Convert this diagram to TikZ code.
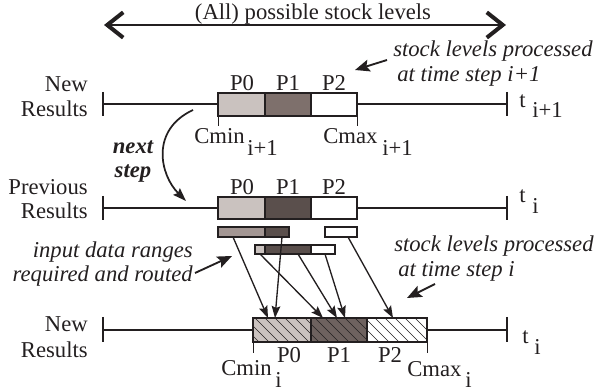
\documentclass[tikz,border=0pt]{standalone}
\usepackage{fontspec}
\setmainfont{Liberation Serif}
\usetikzlibrary{arrows.meta}
\definecolor{lightp}{HTML}{CAC2BF}
\definecolor{midp}{HTML}{7E706C}
\definecolor{darkp}{HTML}{5A4F4C}
\definecolor{barl}{HTML}{A39693}
\definecolor{hatchp}{HTML}{6E625F}
\definecolor{ink}{HTML}{231F20}
\begin{document}
\begin{tikzpicture}[x=0.75pt,y=-0.75pt,
  txt/.style={font=\fontsize{17}{18.75}\selectfont, text=ink, inner sep=0pt},
  itxt/.style={font=\fontsize{17}{18.75}\selectfont\itshape, text=ink, inner sep=0pt},
  btxt/.style={font=\fontsize{17}{18.75}\selectfont\bfseries\itshape, text=ink, inner sep=0pt},
  axis/.style={line width=1.2pt, draw=ink},
  tickline/.style={line width=1.6pt, draw=ink},
  boxline/.style={line width=1.5pt, draw=ink},
  thin/.style={line width=0.6pt, draw=ink},
  conn/.style={line width=1pt, draw=ink, -{Stealth[length=9pt,width=6.5pt,inset=1.5pt]}},
  ptr/.style={line width=1.4pt, draw=ink, -{Stealth[length=11pt,width=9pt,inset=2pt]}},
  hatch/.style={line width=0.5pt, draw=ink}]
\useasboundingbox (0,0) rectangle (600,391);

% top double arrow
\coordinate (la) at (104,25);
\coordinate (ra) at (506,25);
\draw[line width=1.2pt, draw=ink,
  {Straight Barb[length=12pt,width=19pt,line width=3pt]}-{Straight Barb[length=12pt,width=19pt,line width=3pt]}] (la) -- (ra);
\node[txt, anchor=base] (title) at (313,20) {(All) possible stock levels};

% ---------- row 1 ----------
\node[txt, anchor=base east] (new1) at (88,92) {New};
\node[txt, anchor=base east] (res1) at (88,117) {Results};
\draw[axis] (103,104) -- (507,104);
\draw[tickline] (103,92) -- (103,116);
\draw[tickline] (507,92) -- (507,116);
\fill[lightp] (218,93) rectangle (265,116);
\fill[midp] (265,93) rectangle (311,116);
\fill[white] (311,93) rectangle (357,116);
\draw[boxline] (218,93) rectangle (357,116);
\draw[boxline] (265,93) -- (265,116);
\draw[boxline] (311,93) -- (311,116);
\draw[thin] (218,116) -- (218,126);
\draw[thin] (357,116) -- (357,126);
\node[txt, anchor=base] (p01) at (242,91) {P0};
\node[txt, anchor=base] (p11) at (288,91) {P1};
\node[txt, anchor=base] (p21) at (334,91) {P2};
\node[txt, anchor=base west] (cmin1) at (194,144) {Cmin};
\node[txt, anchor=base west] (cmin1s) at (247,156) {i+1};
\node[txt, anchor=base west] (cmax1) at (323,144) {Cmax};
\node[txt, anchor=base west] (cmax1s) at (382,156) {i+1};
\node[txt, anchor=base west] (t1) at (519,108) {t};
\node[txt, anchor=base west] (t1s) at (532,118) {i+1};
\node[itxt, anchor=base west] (s1a) at (393,57) {stock levels processed};
\node[itxt, anchor=base west] (s1b) at (397,82) {at time step i+1};
\coordinate (s1t) at (387,60);
\coordinate (s1h) at (355,70);
\draw[ptr] (s1t) -- (s1h);

% next step
\node[btxt, anchor=base] (next) at (133,154) {next};
\node[btxt, anchor=base] (step) at (133,178) {step};
\coordinate (c0) at (193,110);
\coordinate (c1) at (186,201);
\draw[line width=1.3pt, draw=ink, -{Stealth[length=10pt,width=7pt,inset=1.5pt]}]
  (c0) .. controls (150,130) and (160,175) .. (c1);

% ---------- row 2 ----------
\node[txt, anchor=base east] (prev2) at (88,195) {Previous};
\node[txt, anchor=base east] (res2) at (88,219) {Results};
\draw[axis] (103,208) -- (507,208);
\draw[tickline] (103,196) -- (103,220);
\draw[tickline] (507,196) -- (507,220);
\fill[lightp] (218,197) rectangle (265,219);
\fill[darkp] (265,197) rectangle (311,219);
\fill[white] (311,197) rectangle (357,219);
\draw[boxline] (218,197) rectangle (357,219);
\draw[boxline] (265,197) -- (265,219);
\draw[boxline] (311,197) -- (311,219);
\node[txt, anchor=base] (p02) at (242,195) {P0};
\node[txt, anchor=base] (p12) at (288,195) {P1};
\node[txt, anchor=base] (p22) at (334,195) {P2};
\node[txt, anchor=base west] (t2) at (519,203) {t};
\node[txt, anchor=base west] (t2s) at (532,214) {i};

% input bars row A
\fill[barl] (218,227) rectangle (265,237);
\fill[darkp] (265,227) rectangle (289,237);
\draw[boxline] (218,227) rectangle (289,237);
\draw[boxline] (265,227) -- (265,237);
\fill[white] (325,227) rectangle (357,237);
\draw[boxline] (325,227) rectangle (357,237);
% input bars row B
\fill[lightp] (255,245) rectangle (265,254);
\fill[darkp] (265,245) rectangle (311,254);
\fill[white] (311,245) rectangle (335,254);
\draw[boxline] (255,245) rectangle (335,254);
\draw[boxline] (265,245) -- (265,254);
\draw[boxline] (311,245) -- (311,254);

\node[itxt, anchor=base east] (in1) at (193,258) {input data ranges};
\node[itxt, anchor=base east] (in2) at (193,282) {required and routed};
\coordinate (int) at (195,273);
\coordinate (inh) at (232,256);
\draw[ptr] (int) -- (inh);

\node[itxt, anchor=base west] (s3a) at (394,252) {stock levels processed};
\node[itxt, anchor=base west] (s3b) at (398,277) {at time step i};
\coordinate (s3t) at (435,284);
\coordinate (s3h) at (407,298);
\draw[ptr] (s3t) -- (s3h);

% ---------- row 3 ----------
\node[txt, anchor=base east] (new3) at (88,332) {New};
\node[txt, anchor=base east] (res3) at (88,358) {Results};
\draw[axis] (103,330) -- (507,330);
\draw[tickline] (103,317) -- (103,342);
\draw[tickline] (507,317) -- (507,342);
\fill[lightp] (253,318) rectangle (311,342);
\fill[hatchp] (311,318) rectangle (367,342);
\fill[white] (367,318) rectangle (427,342);
\begin{scope}
  \clip (253,318) rectangle (427,342);
  \foreach \hx in {225,235,...,435} \draw[hatch] (\hx,318) -- (\hx+24,342);
\end{scope}
\draw[boxline] (253,318) rectangle (427,342);
\draw[boxline] (311,318) -- (311,342);
\draw[boxline] (367,318) -- (367,342);
\draw[thin] (253,342) -- (253,353);
\draw[thin] (427,342) -- (427,353);
\node[txt, anchor=base] (p03) at (289,363) {P0};
\node[txt, anchor=base] (p13) at (339,363) {P1};
\node[txt, anchor=base] (p23) at (390,363) {P2};
\node[txt, anchor=base west] (cmin3) at (221,376) {Cmin};
\node[txt, anchor=base west] (cmin3s) at (275,388) {i};
\node[txt, anchor=base west] (cmax3) at (407,377) {Cmax};
\node[txt, anchor=base west] (cmax3s) at (465,388) {i};
\node[txt, anchor=base west] (t3) at (522,344) {t};
\node[txt, anchor=base west] (t3s) at (534,355) {i};

% routing connectors
\coordinate (a1) at (233,237); \coordinate (b1) at (268,318);
\coordinate (a2) at (282,237); \coordinate (b2) at (275,318);
\coordinate (a3) at (260,254); \coordinate (b3) at (323,318);
\coordinate (a4) at (298,254); \coordinate (b4) at (337,318);
\coordinate (a5) at (325,254); \coordinate (b5) at (345,318);
\coordinate (a6) at (348,237); \coordinate (b6) at (393,318);
\foreach \k in {1,...,6} \draw[conn] (a\k) -- (b\k);
\end{tikzpicture}
\end{document}
